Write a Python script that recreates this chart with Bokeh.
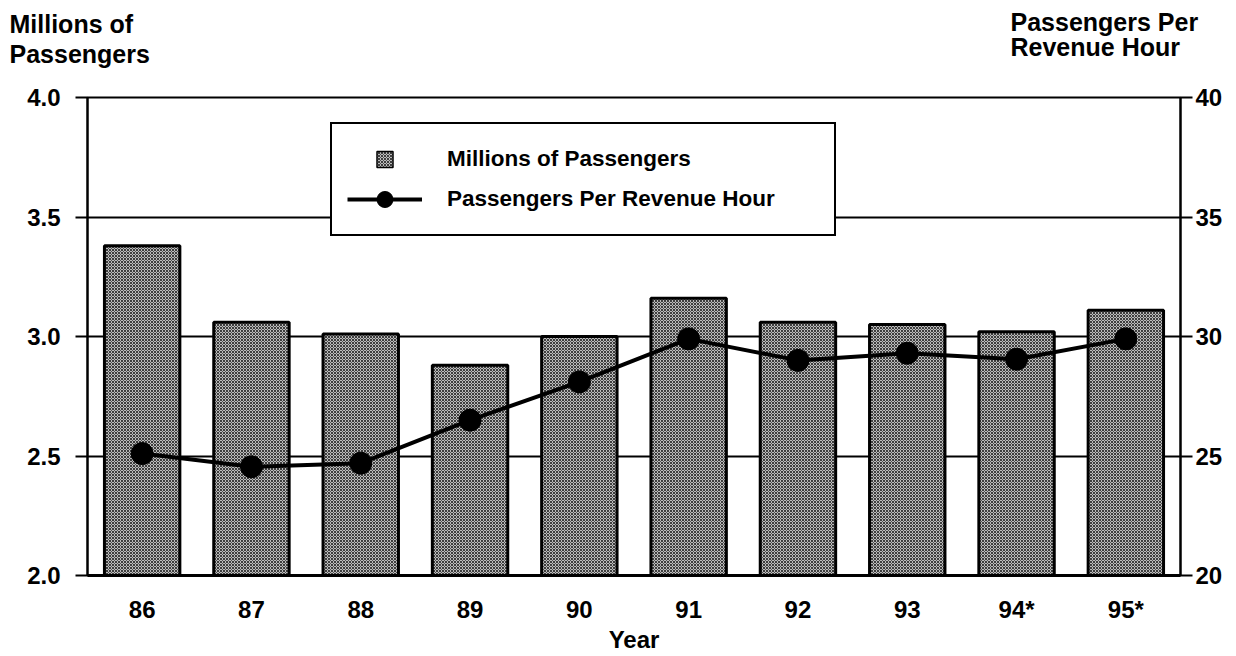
from bokeh.plotting import figure
from bokeh.models import (FactorRange, Range1d, LinearAxis, FixedTicker, NumeralTickFormatter,
                          Legend, LegendItem, Label, ColumnDataSource)
from bokeh.layouts import column
from bokeh.embed import file_html
from bokeh.resources import INLINE

years = ["86", "87", "88", "89", "90", "91", "92", "93", "94*", "95*"]
passengers_millions = [3.38, 3.06, 3.01, 2.88, 3.00, 3.16, 3.06, 3.05, 3.02, 3.11]
passengers_per_rev_hour = [25.1, 24.55, 24.7, 26.5, 28.1, 29.9, 29.0, 29.3, 29.05, 29.9]
left_ticks = [2.0, 2.5, 3.0, 3.5, 4.0]
right_ticks = [20, 25, 30, 35, 40]
left_title = ["Millions of", "Passengers"]
right_title = ["Passengers Per", "Revenue Hour"]

FONT = "Liberation Sans"
BAR_FILL = "#bcbcbc"
W = 1228

src = ColumnDataSource(dict(year=years, mp=passengers_millions, pph=passengers_per_rev_hour))

# ---- strip with the two axis titles ----
TH = 80
tf = figure(width=W, height=TH, x_range=Range1d(0, W), y_range=Range1d(TH, 0),
            x_axis_type=None, y_axis_type=None, min_border=0,
            output_backend="svg", toolbar_location=None,
            background_fill_color="white", border_fill_color="white")
tf.outline_line_color = None
tf.grid.visible = False
if "frame_align" in tf.properties():
    tf.frame_align = False

def title(text, x, y):
    tf.add_layout(Label(x=x, y=y, text=text, text_font=FONT, text_font_style="bold",
                        text_font_size="25px", text_color="black",
                        text_baseline="alphabetic", text_align="left"))

title(left_title[0], 9, 23)
title(left_title[1], 9, 53)
title(right_title[0], 1010, 21)
title(right_title[1], 1010, 46)

# ---- main chart ----
p = figure(x_range=FactorRange(*years, range_padding=0, factor_padding=0),
           y_range=Range1d(2.0, 4.0),
           frame_width=1093, frame_height=478,
           min_border_left=87, min_border_right=48, min_border_top=97 - TH, min_border_bottom=60,
           output_backend="svg", toolbar_location=None,
           background_fill_color="white", border_fill_color="white")
p.extra_y_ranges = {"pph": Range1d(20, 40), "swatch": Range1d(10, 20)}
if "frame_align" in p.properties():
    p.frame_align = False

p.outline_line_color = "black"
p.outline_line_width = 2

p.xgrid.visible = False
p.ygrid.grid_line_color = "black"
p.ygrid.grid_line_width = 2

la = p.yaxis[0]
la.ticker = FixedTicker(ticks=left_ticks)
la.formatter = NumeralTickFormatter(format="0.0")
la.axis_line_width = 2
la.major_tick_line_width = 2
la.major_tick_out = 12
la.major_tick_in = 0
la.minor_tick_line_color = None
la.major_label_standoff = 15
la.major_label_text_font = FONT
la.major_label_text_font_style = "bold"
la.major_label_text_font_size = "24px"
la.major_label_text_color = "black"

ra = LinearAxis(y_range_name="pph", ticker=FixedTicker(ticks=right_ticks))
ra.axis_line_width = 2
ra.major_tick_line_width = 2
ra.major_tick_out = 12
ra.major_tick_in = 0
ra.minor_tick_line_color = None
ra.major_label_standoff = 3
ra.major_label_text_font = FONT
ra.major_label_text_font_style = "bold"
ra.major_label_text_font_size = "24px"
ra.major_label_text_color = "black"
p.add_layout(ra, "right")

xa = p.xaxis[0]
xa.axis_line_width = 3
xa.major_tick_line_color = None
xa.major_tick_out = 0
xa.major_tick_in = 0
xa.major_label_standoff = 20
xa.major_label_text_font = FONT
xa.major_label_text_font_style = "bold"
xa.major_label_text_font_size = "24px"
xa.major_label_text_color = "black"
xa.axis_label = "Year"
xa.axis_label_standoff = 0
xa.axis_label_text_font = FONT
xa.axis_label_text_font_style = "bold"
xa.axis_label_text_font_size = "24px"
xa.axis_label_text_color = "black"

hatch = dict(hatch_pattern="diagonal_cross", hatch_color="black", hatch_scale=3,
             hatch_weight=0.9, hatch_alpha=0.75)

bars = p.vbar(x="year", top="mp", bottom=2.0, width=0.69, source=src,
              fill_color=BAR_FILL, line_color="black", line_width=3, **hatch)

line_r = p.line(x="year", y="pph", source=src, y_range_name="pph",
                line_color="black", line_width=4)
circ_r = p.scatter(x="year", y="pph", source=src, y_range_name="pph", marker="circle",
                   size=22, fill_color="black", line_color="black")

# square swatch for the bar series in the legend; its range keeps it out of the plot area
sq = p.scatter(x="year", y="mp", source=src, y_range_name="swatch",
               marker="square", size=20, fill_color=BAR_FILL,
               line_color="black", line_width=1.5, **hatch)

legend = Legend(items=[LegendItem(label="Millions of Passengers", renderers=[sq]),
                       LegendItem(label="Passengers Per Revenue Hour", renderers=[line_r, circ_r])],
                location=(243, 339), orientation="vertical",
                glyph_width=75, glyph_height=40, label_height=40, label_width=372,
                label_standoff=25, spacing=0, padding=15, margin=0,
                border_line_color="black", border_line_width=2, border_line_alpha=1.0,
                background_fill_color="white", background_fill_alpha=1.0,
                label_text_font=FONT, label_text_font_style="bold",
                label_text_font_size="22.5px", label_text_color="black")
p.add_layout(legend)

layout = column(tf, p, spacing=0)
open("out.html", "w").write(file_html(layout, INLINE))
